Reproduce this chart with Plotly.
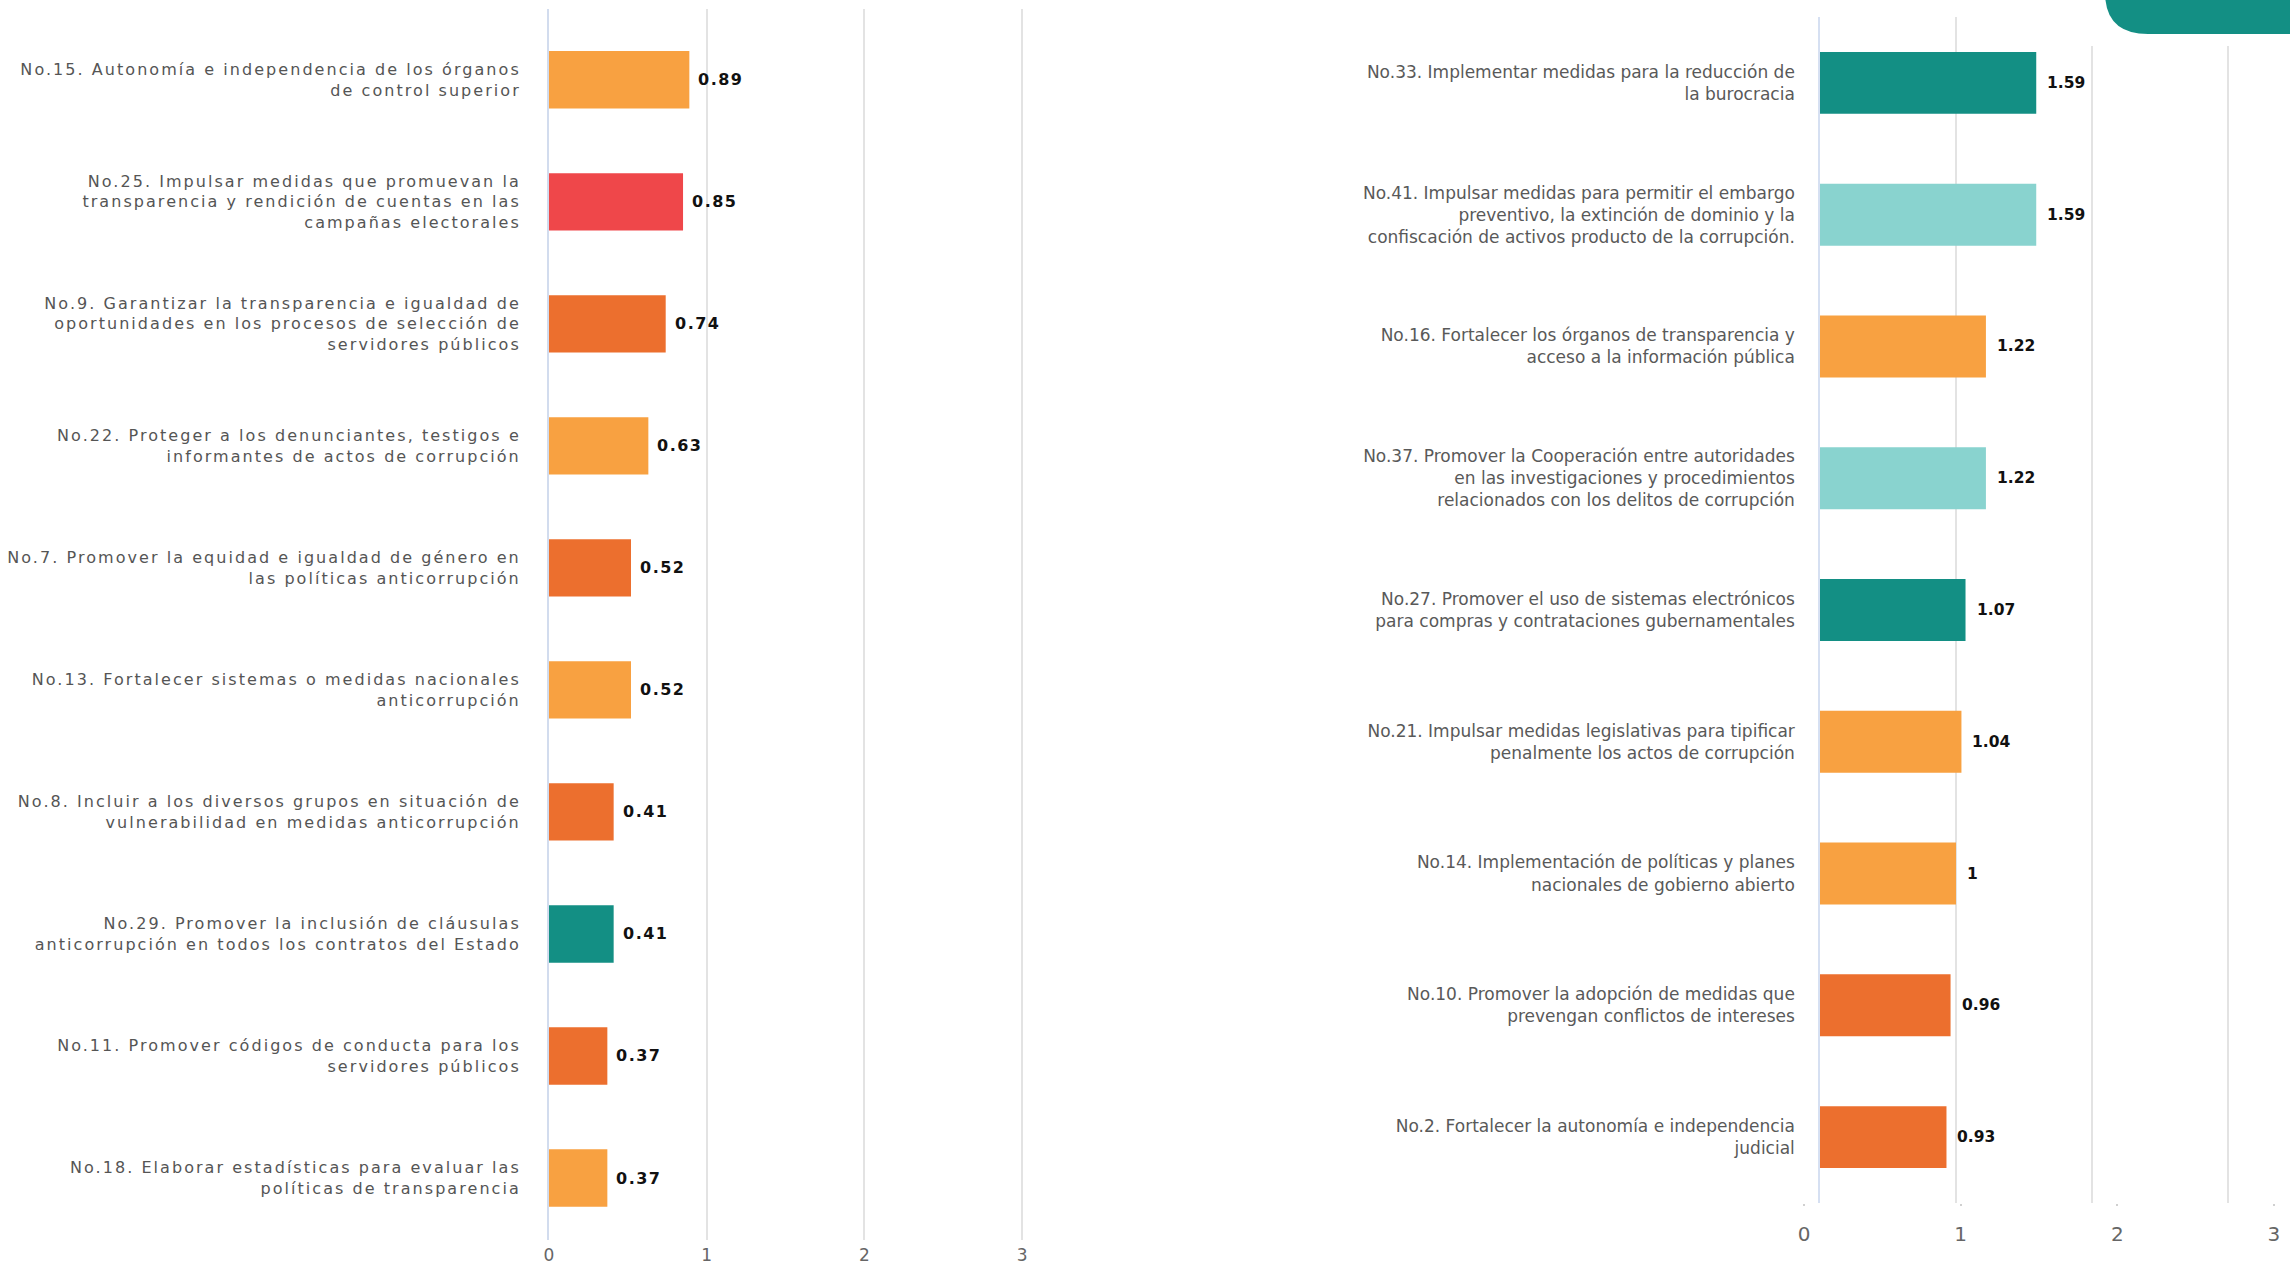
import plotly.graph_objects as go

W, H = 2290, 1267

# ---------------- data ----------------
left_labels = [
    "No.15. Autonomía e independencia de los órganos<br>de control superior",
    "No.25. Impulsar medidas que promuevan la<br>transparencia y rendición de cuentas en las<br>campañas electorales",
    "No.9. Garantizar la transparencia e igualdad de<br>oportunidades en los procesos de selección de<br>servidores públicos",
    "No.22. Proteger a los denunciantes, testigos e<br>informantes de actos de corrupción",
    "No.7. Promover la equidad e igualdad de género en<br>las políticas anticorrupción",
    "No.13. Fortalecer sistemas o medidas nacionales<br>anticorrupción",
    "No.8. Incluir a los diversos grupos en situación de<br>vulnerabilidad en medidas anticorrupción",
    "No.29. Promover la inclusión de cláusulas<br>anticorrupción en todos los contratos del Estado",
    "No.11. Promover códigos de conducta para los<br>servidores públicos",
    "No.18. Elaborar estadísticas para evaluar las<br>políticas de transparencia",
]
left_values = [0.89, 0.85, 0.74, 0.63, 0.52, 0.52, 0.41, 0.41, 0.37, 0.37]
left_groups = ["lo", "red", "do", "lo", "do", "lo", "do", "teal", "do", "lo"]

right_labels = [
    "No.33. Implementar medidas para la reducción de<br>la burocracia",
    "No.41. Impulsar medidas para permitir el embargo<br>preventivo, la extinción de dominio y la<br>confiscación de activos producto de la corrupción.",
    "No.16. Fortalecer los órganos de transparencia y<br>acceso a la información pública",
    "No.37. Promover la Cooperación entre autoridades<br>en las investigaciones y procedimientos<br>relacionados con los delitos de corrupción",
    "No.27. Promover el uso de sistemas electrónicos<br>para compras y contrataciones gubernamentales",
    "No.21. Impulsar medidas legislativas para tipificar<br>penalmente los actos de corrupción",
    "No.14. Implementación de políticas y planes<br>nacionales de gobierno abierto",
    "No.10. Promover la adopción de medidas que<br>prevengan conflictos de intereses",
    "No.2. Fortalecer la autonomía e independencia<br>judicial",
]
right_values = [1.59, 1.59, 1.22, 1.22, 1.07, 1.04, 1.00, 0.96, 0.93]
right_groups = ["teal", "lteal", "lo", "lteal", "teal", "lo", "lo", "do", "do"]

x_ticks = [0, 1, 2, 3]
x_tick_text = ["0", "1", "2", "3"]

palette = {
    "lo": "#F8A141",
    "red": "#EF474A",
    "do": "#EC6F2E",
    "teal": "#138F84",
    "lteal": "#89D3CF",
}

FONT = "DejaVu Sans"

def px(x):
    return x / W

def py(y):
    return 1 - y / H

fig = go.Figure()

fig.add_trace(go.Bar(
    x=left_values, y=left_labels, orientation="h",
    marker=dict(color=[palette[g] for g in left_groups], line=dict(width=0)),
    width=0.47, xaxis="x", yaxis="y", hoverinfo="skip", showlegend=False,
))
fig.add_trace(go.Bar(
    x=right_values, y=right_labels, orientation="h",
    marker=dict(color=[palette[g] for g in right_groups], line=dict(width=0)),
    width=0.47, xaxis="x2", yaxis="y2", hoverinfo="skip", showlegend=False,
))
# carrier for the free-standing tick axis of the right chart
fig.add_trace(go.Scatter(
    x=[x_ticks[0], x_ticks[-1]], y=[0.5, 0.5], mode="markers",
    marker=dict(opacity=0), xaxis="x3", yaxis="y3",
    hoverinfo="skip", showlegend=False,
))

annotations = []
for lab, v in zip(left_labels, left_values):
    annotations.append(dict(
        x=v, y=lab, xref="x", yref="y", text=f"{v:g}", showarrow=False,
        xanchor="left", yanchor="middle", xshift=10,
        font=dict(family=FONT, size=16, color="#111111", weight="bold"),
    ))
for lab, v in zip(right_labels, right_values):
    annotations.append(dict(
        x=v, y=lab, xref="x2", yref="y2", text=f"{v:g}", showarrow=False,
        xanchor="left", yanchor="middle", xshift=9,
        font=dict(family=FONT, size=15.5, color="#111111", weight="bold"),
    ))

shapes = [
    dict(type="rect", xref="paper", yref="paper",
         x0=px(2045), x1=1, y0=py(46), y1=1,
         fillcolor="white", line=dict(width=0), layer="above"),
    dict(type="path", xref="paper", yref="paper",
         path=(f"M {px(2105)},{py(-12)} L {px(2105)},{py(-8)} "
               f"Q {px(2105)},{py(34)} {px(2148)},{py(34)} "
               f"L {px(2290)},{py(34)} L {px(2290)},{py(-12)} Z"),
         fillcolor="#138F84", line=dict(width=0), layer="above"),
]

R0 = 1820  # right chart zero line

fig.update_layout(
    width=W, height=H,
    margin=dict(l=0, r=0, t=0, b=0, autoexpand=False),
    paper_bgcolor="white", plot_bgcolor="rgba(0,0,0,0)",
    annotations=annotations,
    shapes=shapes,
    xaxis=dict(
        domain=[px(549), px(549 + 3.02 * 157.7)], range=[0, 3.02],
        anchor="y", tickvals=x_ticks, ticktext=x_tick_text,
        showgrid=True, gridcolor="#E3E3E3", gridwidth=2,
        zeroline=False, showline=False, ticks="", automargin=False,
        ticklabelstandoff=3,
        tickfont=dict(family=FONT, size=17, color="#666666"),
    ),
    yaxis=dict(
        domain=[py(1240), py(9)], range=[9.508, -0.58],
        anchor="x", type="category", automargin=False,
        categoryorder="array", categoryarray=left_labels,
        showgrid=False, zeroline=False,
        showline=True, linecolor="#D2DCEE", linewidth=2,
        ticks="", ticklabelstandoff=23,
        tickfont=dict(family=FONT, size=16, color="#555555"),
    ),
    xaxis2=dict(
        domain=[px(R0), px(R0 + 3.05 * 136)], range=[0, 3.05],
        anchor="y2", tickvals=x_ticks, showticklabels=False, automargin=False,
        showgrid=True, gridcolor="#E3E3E3", gridwidth=1.5,
        zeroline=False, showline=False, ticks="",
    ),
    yaxis2=dict(
        domain=[py(1203), py(17)], range=[8.5, -0.5],
        anchor="x2", type="category", automargin=False,
        categoryorder="array", categoryarray=right_labels,
        showgrid=False, zeroline=False,
        showline=True, linecolor="#D6E0F2", linewidth=1.5,
        ticks="", ticklabelstandoff=20,
        tickfont=dict(family=FONT, size=17, color="#595959"),
    ),
    xaxis3=dict(
        domain=[px(1804), px(2274)], range=[-0.001, 3.001],
        anchor="y3", tickvals=x_ticks, ticktext=x_tick_text, automargin=False,
        showgrid=False, zeroline=False, showline=False,
        ticks="outside", ticklen=2, tickwidth=2, tickcolor="#D0D0D0",
        ticklabelstandoff=11,
        tickfont=dict(family=FONT, size=20, color="#666666"),
    ),
    yaxis3=dict(
        domain=[py(1203), py(17)], range=[0, 1], anchor="x3", visible=False,
        automargin=False,
    ),
)

post = """
document.body.style.margin='0';
document.body.style.overflow='hidden';
var gd=document.getElementsByClassName('plotly-graph-div')[0];
gd.querySelectorAll('g.ytick text').forEach(function(t){t.style.letterSpacing='2.05px';});
var anns=gd.querySelectorAll('g.annotation');
for (var i=0;i<10 && i<anns.length;i++){var t=anns[i].querySelector('text'); if(t){t.style.letterSpacing='1.5px';}}
"""

fig.write_html("out.html", post_script=post, config={"displayModeBar": False})
